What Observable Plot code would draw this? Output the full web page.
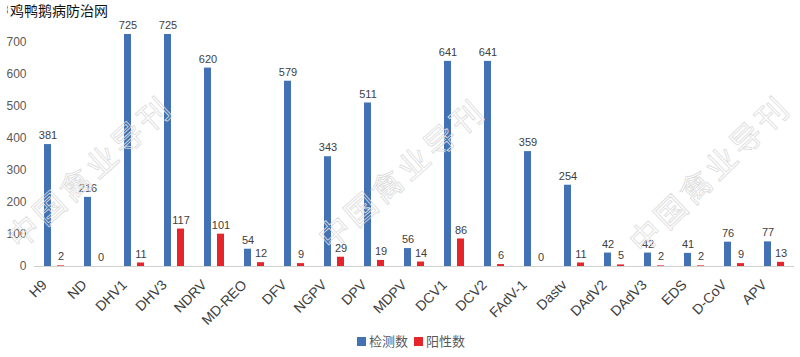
<!DOCTYPE html>
<html><head><meta charset="utf-8">
<script src="https://cdn.jsdelivr.net/npm/d3@7"></script>
<script src="https://cdn.jsdelivr.net/npm/@observablehq/plot@0.6"></script>
<style>
body{margin:0;background:#fff;font-family:"Noto Sans CJK SC","Noto Sans",sans-serif;}
#wrap{position:relative;width:800px;height:357px;overflow:hidden;}
#title{position:absolute;left:8px;top:1px;font-size:14px;color:#111;background:#fff;padding:0 3px 0 2px;line-height:19px;}
#legend{position:absolute;left:8px;width:800px;top:332px;text-align:center;font-size:13px;color:#595959;line-height:18px;}
#legend span.sw{display:inline-block;width:9px;height:9px;margin:0 3px 0 6px;vertical-align:-0px;}
</style></head>
<body>
<div id="wrap"><div id="chart"></div><div id="title">鸡鸭鹅病防治网</div><div id="legend"></div></div>
<script>
const categories = ["H9","ND","DHV1","DHV3","NDRV","MD-REO","DFV","NGPV","DPV","MDPV","DCV1","DCV2","FAdV-1","Dastv","DAdV2","DAdV3","EDS","D-CoV","APV"];
const detected = [381,216,725,725,620,54,579,343,511,56,641,641,359,254,42,42,41,76,77];
const positive = [2,0,11,117,101,12,9,29,19,14,86,6,0,11,5,2,2,9,13];
const seriesNames = ["检测数","阳性数"];
const seriesColors = ["#4272b4","#e6242b"];
const yTicks = [0,100,200,300,400,500,600,700,800];
const watermarkText = "中国禽业导刊";

const rows = categories.flatMap((c,i)=>[
  {category:c, series:seriesNames[0], value:detected[i]},
  {category:c, series:seriesNames[1], value:positive[i]}
]);

const chart = Plot.plot({
  width:800, height:357,
  marginTop:10, marginBottom:91, marginLeft:34, marginRight:6,
  style:{fontFamily:"'Liberation Sans', Arial, sans-serif", background:"transparent"},
  fx:{domain:categories, padding:0},
  x:{domain:seriesNames, paddingInner:0.5, paddingOuter:0.68, axis:null},
  y:{domain:[0,800]},
  color:{domain:seriesNames, range:seriesColors},
  marks:[
    Plot.axisY({ticks:yTicks, tickSize:0, tickPadding:8, label:null, fontSize:12, fill:"#595959"}),
    Plot.axisFx({anchor:"bottom", tickRotate:-45, tickSize:0, tickPadding:6, dx:-10, dy:10, label:null, fontSize:14, fill:"#404040"}),
    Plot.ruleY([0], {stroke:"#d0d0d0", strokeWidth:1}),
    Plot.barY(rows, {fx:"category", x:"series", y:"value", fill:"series"}),
    Plot.text(rows, {fx:"category", x:"series", y:"value", text:d=>String(d.value), dy:-9, fontSize:11, fill:"#404040"})
  ]
});
document.getElementById("chart").appendChild(chart);

// watermark decoration
const svg = d3.select(chart);
const wm = svg.append("g").attr("pointer-events","none");
[[92,174,-42],[404,176,-41],[712,176,-44]].forEach(([cx,cy,a])=>{
  wm.append("text")
    .attr("transform",`translate(${cx},${cy}) rotate(${a})`)
    .attr("text-anchor","middle").attr("dominant-baseline","middle")
    .attr("font-family","'Noto Sans CJK SC', sans-serif").attr("font-size",31)
    .attr("letter-spacing",4)
    .attr("fill","none").attr("stroke","#dcdcdc").attr("stroke-width",0.8)
    .text(watermarkText);
});

const legend = document.getElementById("legend");
seriesNames.forEach((s,i)=>{
  const sw = document.createElement("span"); sw.className="sw"; sw.style.background=seriesColors[i];
  legend.appendChild(sw);
  legend.appendChild(document.createTextNode(s));
});
</script>
</body></html>
